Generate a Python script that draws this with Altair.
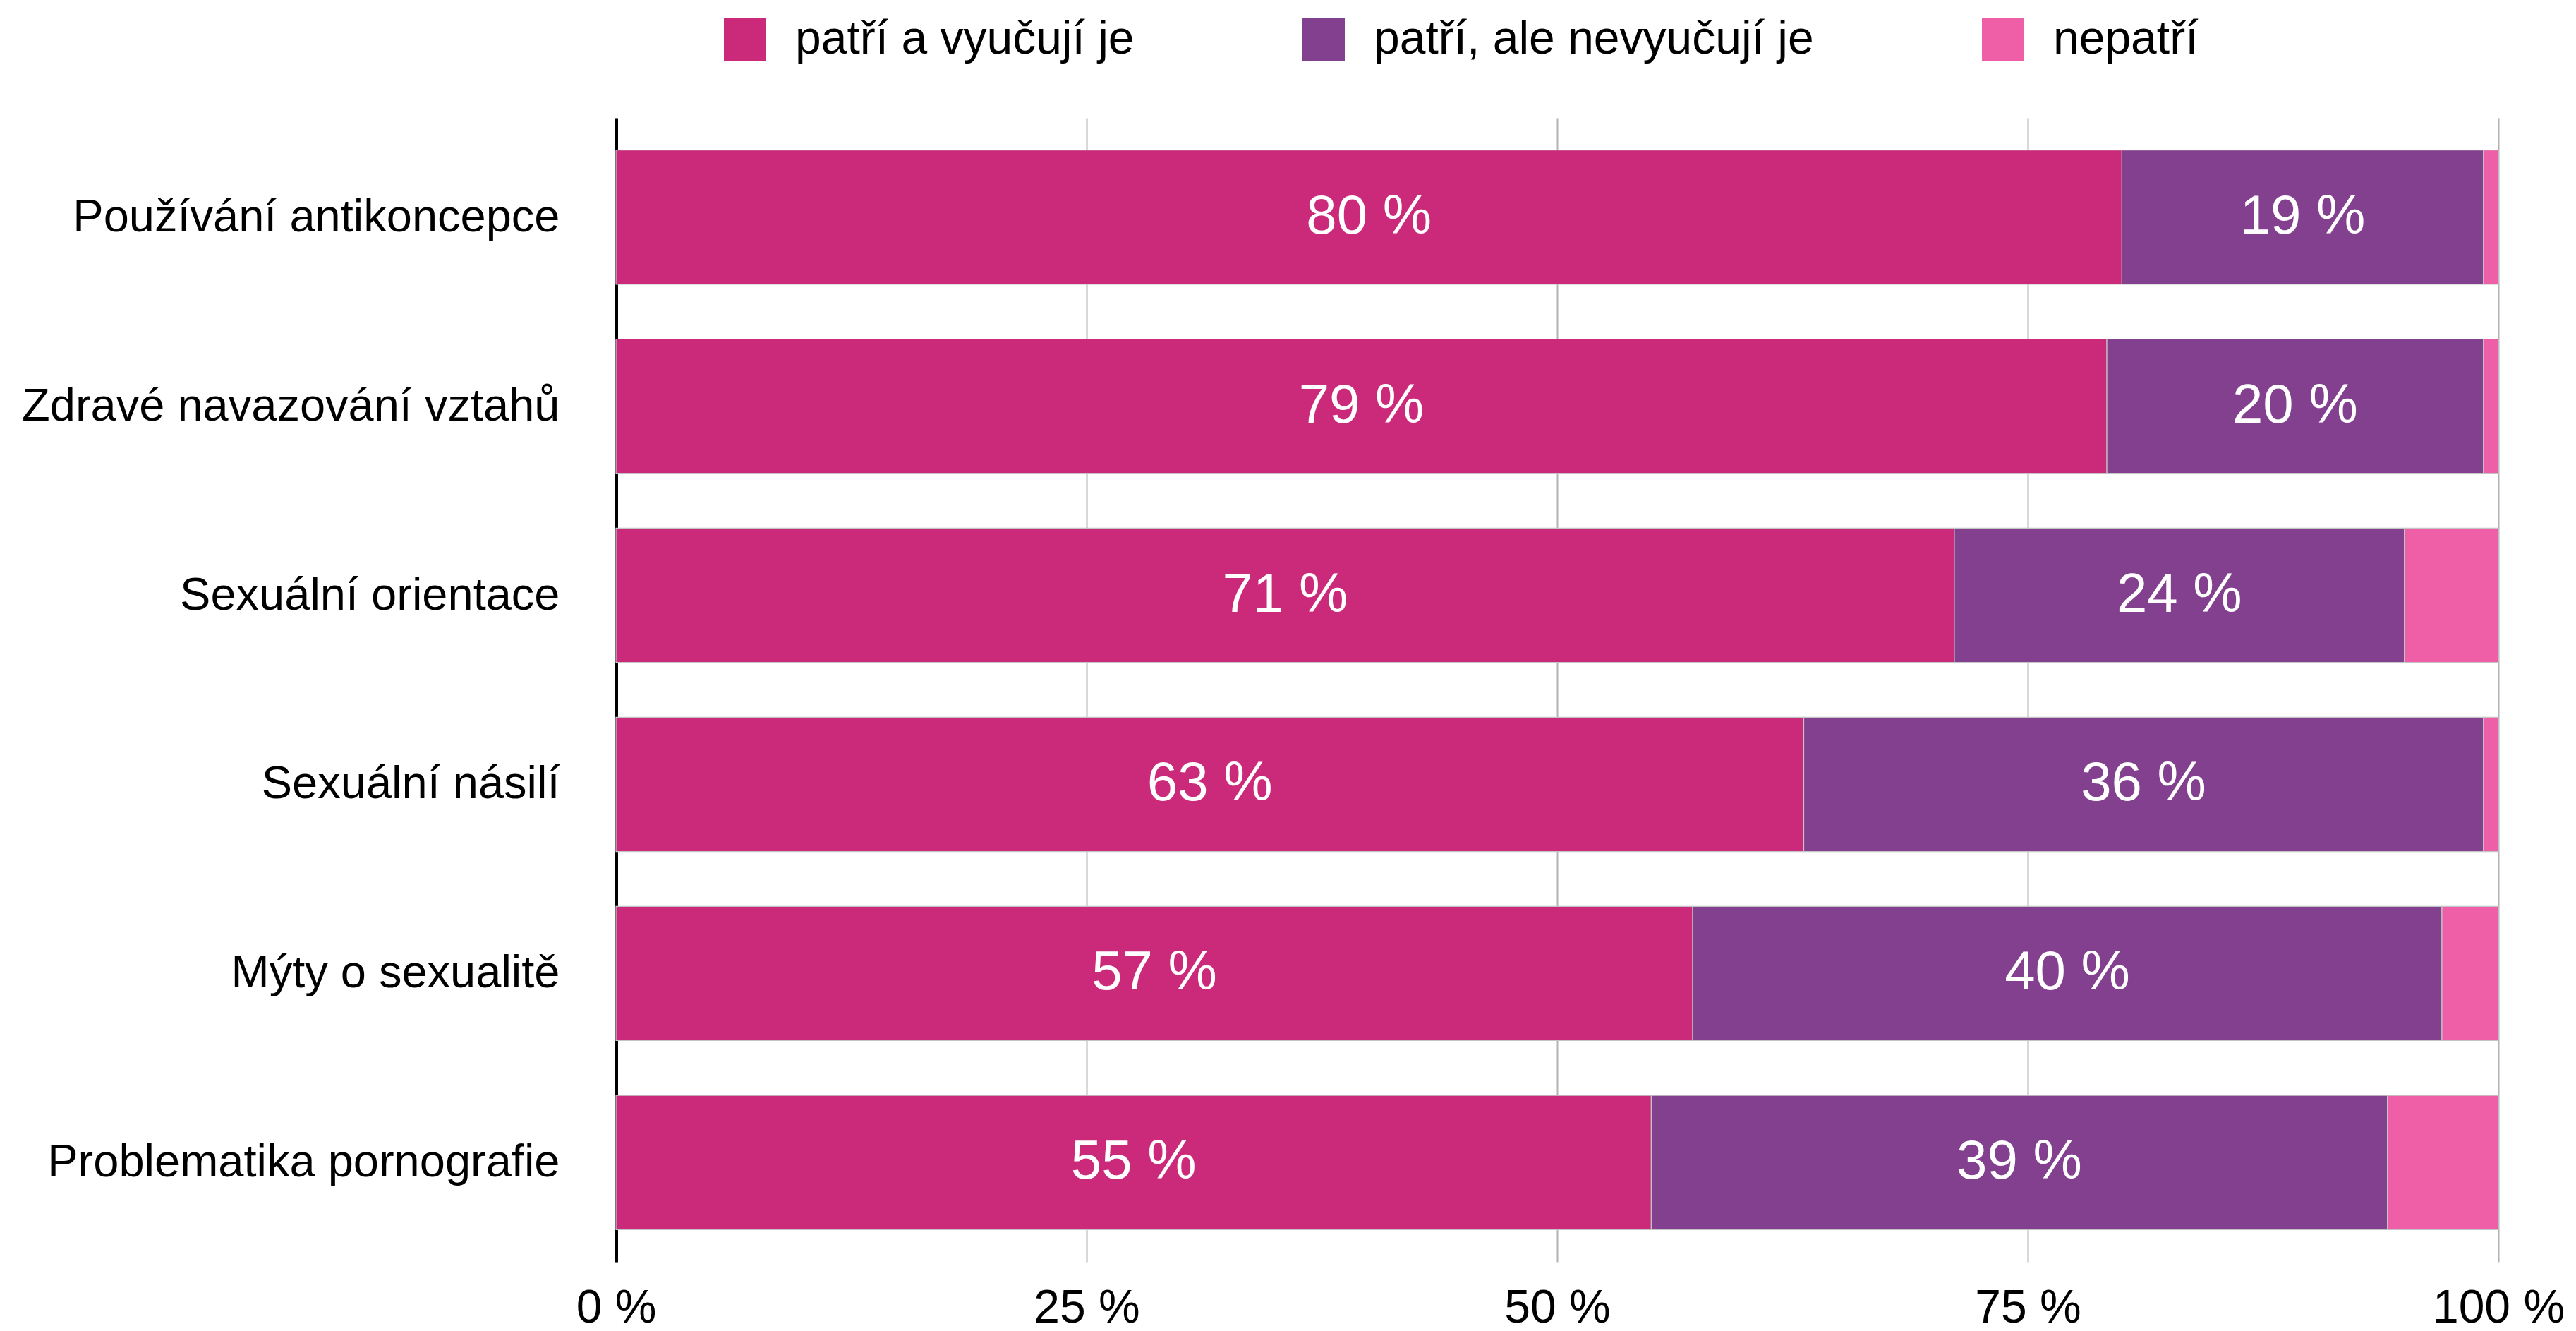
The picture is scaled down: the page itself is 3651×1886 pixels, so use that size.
import altair as alt
import pandas as pd

categories = [
    "Používání antikoncepce",
    "Zdravé navazování vztahů",
    "Sexuální orientace",
    "Sexuální násilí",
    "Mýty o sexualitě",
    "Problematika pornografie",
]
series = ["patří a vyučují je", "patří, ale nevyučují je", "nepatří"]
taught = [80.0, 79.2, 71.1, 63.1, 57.2, 55.0]
not_taught = [19.2, 20.0, 23.9, 36.1, 39.8, 39.1]
not_belong = [0.8, 0.8, 5.0, 0.8, 3.0, 5.9]
colors = ["#CB2A7B", "#83408F", "#EE5FA7"]
x_ticks = [0, 25, 50, 75, 100]

rows = []
for i, c in enumerate(categories):
    for k, (s, vals) in enumerate(zip(series, [taught, not_taught, not_belong])):
        rows.append({"category": c, "series": s, "value": vals[i], "order": k})
df = pd.DataFrame(rows)

FONT = "Liberation Sans"

y_enc = alt.Y(
    "category:N",
    sort=categories,
    scale=alt.Scale(paddingInner=0.29, paddingOuter=0.17),
    axis=alt.Axis(
        title=None,
        labelFontSize=65,
        labelFont=FONT,
        labelColor="black",
        labelPadding=80,
        labelLimit=2000,
        ticks=False,
        domain=True,
        domainColor="black",
        domainWidth=5,
        grid=False,
    ),
)

bars = alt.Chart(df).mark_bar(stroke="#c4c4c4", strokeWidth=1.2).encode(
    y=y_enc,
    x=alt.X(
        "value:Q",
        stack="zero",
        scale=alt.Scale(domain=[0, 100], nice=False),
        axis=alt.Axis(
            title=None,
            values=x_ticks,
            labelExpr="datum.value + ' %'",
            labelFontSize=66,
            labelFont=FONT,
            labelColor="black",
            labelBaseline="alphabetic",
            labelPadding=85,
            labelFlush=False,
            labelOverlap=False,
            labelLimit=1000,
            ticks=False,
            tickSize=0,
            domain=False,
            grid=True,
            gridColor="#b3b3b3",
            gridWidth=2,
        ),
    ),
    color=alt.Color(
        "series:N",
        scale=alt.Scale(domain=series, range=colors),
        legend=alt.Legend(
            title=None,
            orient="none",
            legendX=150,
            legendY=-144,
            direction="horizontal",
            symbolType="square",
            symbolSize=3600,
            symbolStrokeWidth=0,
            labelFontSize=66,
            labelFont=FONT,
            labelColor="black",
            labelOffset=38,
            labelLimit=2000,
            columnPadding=235,
            padding=0,
        ),
    ),
    order=alt.Order("order:Q"),
)

labels = (
    alt.Chart(df)
    .transform_stack(
        stack="value",
        groupby=["category"],
        as_=["v0", "v1"],
        sort=[alt.SortField("order", order="ascending")],
    )
    .transform_filter(alt.datum.order < 2)
    .transform_calculate(
        mid="(datum.v0 + datum.v1) / 2",
        label="format(datum.value, '.0f') + ' %'",
    )
    .mark_text(color="white", fontSize=78, font=FONT, baseline="middle", align="center")
    .encode(y=alt.Y("category:N", sort=categories), x=alt.X("mid:Q"), text="label:N")
)

chart = (
    alt.layer(bars, labels)
    .properties(
        width=2668,
        height=1621,
        autosize=alt.AutoSizeParams(type="none"),
        padding={"left": 865, "top": 159, "right": 102, "bottom": 98},
    )
    .configure_view(stroke=None)
)

chart.save("out.html", embed_options={"renderer": "svg", "actions": False})
